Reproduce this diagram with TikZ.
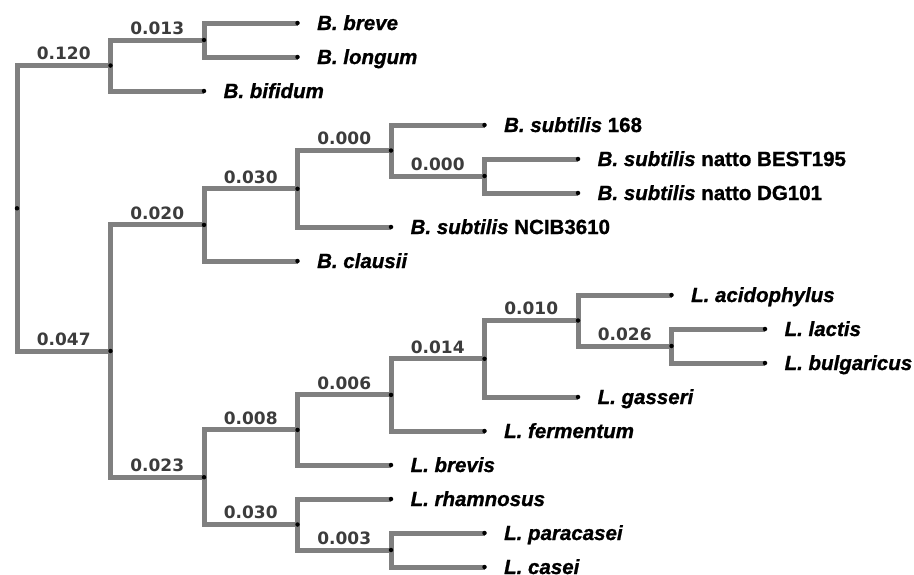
\documentclass[tikz,border=0pt]{standalone}
\usepackage{fontspec}
\usepackage{tikz}
\usetikzlibrary{positioning, backgrounds, calc}
\newfontfamily\leaffont[FakeBold=1]{Liberation Sans}
\newfontfamily\numfont{DejaVu Sans}
\definecolor{branchgray}{RGB}{128,128,128}
\definecolor{numgray}{RGB}{60,60,60}

\begin{document}
\begin{tikzpicture}[
    x=1pt, y=-1pt,
    dot/.style={circle, fill=black, inner sep=0pt, minimum size=4.5pt},
    branch/.style={draw=branchgray, line width=5pt, line join=miter},
    len/.style={pos=0.75, anchor=south, inner sep=0pt, yshift=3pt, font=\numfont\fontsize{17}{20}\selectfont\bfseries, text=numgray},
    taxon/.style={inner sep=0pt, font=\leaffont\fontsize{20.5}{24}\selectfont\bfseries}
]
    % frame
    \useasboundingbox (0,0) rectangle (914,574);
    \clip (0,0) rectangle (914,574);

    % inner nodes
    \node[dot] (root) at (17,208.3) {};
    \node[dot] (bif) at (110.5,65.5) {};
    \node[dot] (brlo) at (204,40) {};
    \node[dot] (basal) at (110.5,351) {};
    \node[dot] (bacil) at (204,224.9) {};
    \node[dot] (subt) at (297.5,188.8) {};
    \node[dot] (sub1) at (391,150.5) {};
    \node[dot] (natto) at (484.5,176) {};
    \node[dot] (lacto) at (204,477.2) {};
    \node[dot] (lgrp) at (297.5,429.9) {};
    \node[dot] (fegrp) at (391,394.9) {};
    \node[dot] (gagrp) at (484.5,358.8) {};
    \node[dot] (acgrp) at (578,320.5) {};
    \node[dot] (labu) at (671.5,346) {};
    \node[dot] (cagrp) at (297.5,524.5) {};
    \node[dot] (pcas) at (391,550) {};

    % leaves
    \node[dot] (breve) at (297.5,23) {};
    \node[dot] (longum) at (297.5,57) {};
    \node[dot] (bifidum) at (204,91) {};
    \node[dot] (s168) at (484.5,125) {};
    \node[dot] (best) at (578,159) {};
    \node[dot] (dg) at (578,193) {};
    \node[dot] (ncib) at (391,227) {};
    \node[dot] (clausii) at (297.5,261) {};
    \node[dot] (acido) at (671.5,295) {};
    \node[dot] (lactis) at (765,329) {};
    \node[dot] (bulg) at (765,363) {};
    \node[dot] (gasseri) at (578,397) {};
    \node[dot] (ferm) at (484.5,431) {};
    \node[dot] (brevis) at (391,465) {};
    \node[dot] (rhamn) at (391,499) {};
    \node[dot] (paraca) at (484.5,533) {};
    \node[dot] (casei) at (484.5,567) {};

    % taxon names
    \node[taxon, right=17pt of breve, anchor=base west, yshift=-7pt] (tbreve) {\itshape B. breve};
    \node[taxon, right=17pt of longum, anchor=base west, yshift=-7pt] (tlongum) {\itshape B. longum};
    \node[taxon, right=17pt of bifidum, anchor=base west, yshift=-7pt] (tbifidum) {\itshape B. bifidum};
    \node[taxon, right=17pt of s168, anchor=base west, yshift=-7pt] (ts168) {\textit{B. subtilis} 168};
    \node[taxon, right=17pt of best, anchor=base west, yshift=-7pt] (tbest) {\textit{B. subtilis} natto BEST195};
    \node[taxon, right=17pt of dg, anchor=base west, yshift=-7pt] (tdg) {\textit{B. subtilis} natto DG101};
    \node[taxon, right=17pt of ncib, anchor=base west, yshift=-7pt] (tncib) {\textit{B. subtilis} NCIB3610};
    \node[taxon, right=17pt of clausii, anchor=base west, yshift=-7pt] (tclausii) {\itshape B. clausii};
    \node[taxon, right=17pt of acido, anchor=base west, yshift=-7pt] (tacido) {\itshape L. acidophylus};
    \node[taxon, right=17pt of lactis, anchor=base west, yshift=-7pt] (tlactis) {\itshape L. lactis};
    \node[taxon, right=17pt of bulg, anchor=base west, yshift=-7pt] (tbulg) {\itshape L. bulgaricus};
    \node[taxon, right=17pt of gasseri, anchor=base west, yshift=-7pt] (tgasseri) {\itshape L. gasseri};
    \node[taxon, right=17pt of ferm, anchor=base west, yshift=-7pt] (tferm) {\itshape L. fermentum};
    \node[taxon, right=17pt of brevis, anchor=base west, yshift=-7pt] (tbrevis) {\itshape L. brevis};
    \node[taxon, right=17pt of rhamn, anchor=base west, yshift=-7pt] (trhamn) {\itshape L. rhamnosus};
    \node[taxon, right=17pt of paraca, anchor=base west, yshift=-7pt] (tparaca) {\itshape L. paracasei};
    \node[taxon, right=17pt of casei, anchor=base west, yshift=-7pt] (tcasei) {\itshape L. casei};

    \begin{scope}[on background layer]
    \fill[white] (0,0) rectangle (914,574);

    % Bifidobacterium
    \draw[branch] (root.center) |- (bif.center) node[len] (w1) {0.120};
    \draw[branch] (bif.center) |- (brlo.center) node[len] (w2) {0.013};
    \draw[branch] (bif.center) |- (bifidum.center);
    \draw[branch] (brlo.center) |- (breve.center);
    \draw[branch] (brlo.center) |- (longum.center);

    % Bacillus
    \draw[branch] (root.center) |- (basal.center) node[len] (w3) {0.047};
    \draw[branch] (basal.center) |- (bacil.center) node[len] (w4) {0.020};
    \draw[branch] (bacil.center) |- (subt.center) node[len] (w5) {0.030};
    \draw[branch] (bacil.center) |- (clausii.center);
    \draw[branch] (subt.center) |- (sub1.center) node[len] (w6) {0.000};
    \draw[branch] (subt.center) |- (ncib.center);
    \draw[branch] (sub1.center) |- (s168.center);
    \draw[branch] (sub1.center) |- (natto.center) node[len] (w7) {0.000};
    \draw[branch] (natto.center) |- (best.center);
    \draw[branch] (natto.center) |- (dg.center);

    % Lactobacillus
    \draw[branch] (basal.center) |- (lacto.center) node[len] (w8) {0.023};
    \draw[branch] (lacto.center) |- (lgrp.center) node[len] (w9) {0.008};
    \draw[branch] (lgrp.center) |- (fegrp.center) node[len] (w10) {0.006};
    \draw[branch] (lgrp.center) |- (brevis.center);
    \draw[branch] (fegrp.center) |- (gagrp.center) node[len] (w11) {0.014};
    \draw[branch] (fegrp.center) |- (ferm.center);
    \draw[branch] (gagrp.center) |- (acgrp.center) node[len] (w12) {0.010};
    \draw[branch] (gagrp.center) |- (gasseri.center);
    \draw[branch] (acgrp.center) |- (acido.center);
    \draw[branch] (acgrp.center) |- (labu.center) node[len] (w13) {0.026};
    \draw[branch] (labu.center) |- (lactis.center);
    \draw[branch] (labu.center) |- (bulg.center);
    \draw[branch] (lacto.center) |- (cagrp.center) node[len] (w14) {0.030};
    \draw[branch] (cagrp.center) |- (rhamn.center);
    \draw[branch] (cagrp.center) |- (pcas.center) node[len] (w15) {0.003};
    \draw[branch] (pcas.center) |- (paraca.center);
    \draw[branch] (pcas.center) |- (casei.center);
    \end{scope}
\end{tikzpicture}
\end{document}
